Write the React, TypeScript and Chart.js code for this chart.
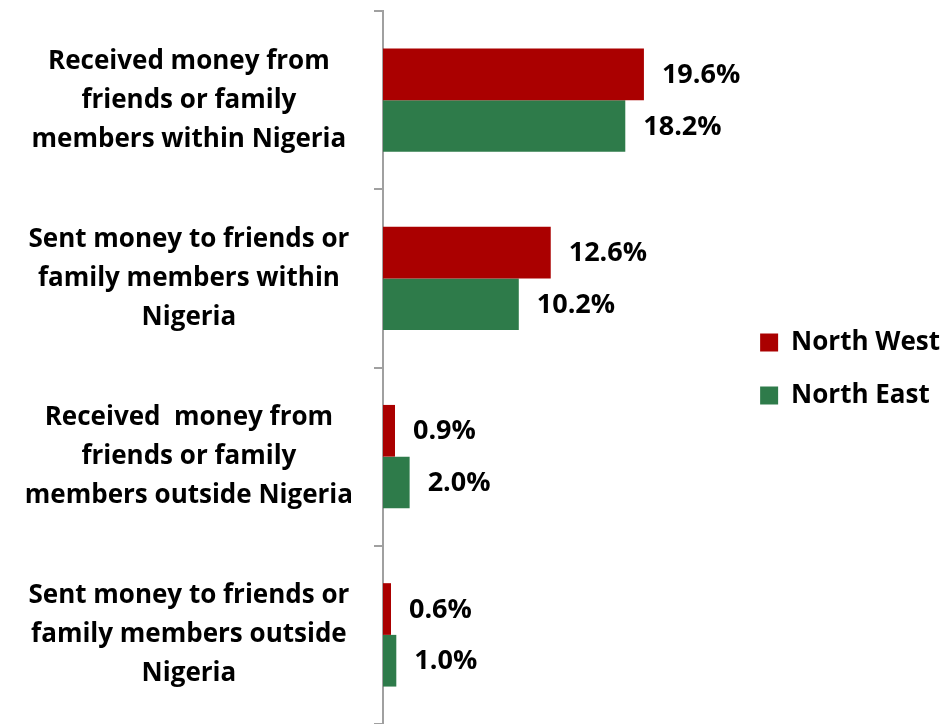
import React, { useEffect, useRef } from "react";
import { Chart, registerables } from "chart.js";

Chart.register(...registerables);

const categories: string[][] = [
  ["Received money from", "friends or family", "members within Nigeria"],
  ["Sent money to friends or", "family members within", "Nigeria"],
  ["Received  money from", "friends or family", "members outside Nigeria"],
  ["Sent money to friends or", "family members outside", "Nigeria"],
];
const northWest: number[] = [19.6, 12.6, 0.9, 0.6];
const northEast: number[] = [18.2, 10.2, 2.0, 1.0];
const seriesNames: string[] = ["North West", "North East"];

const FONT = "'Open Sans', 'Liberation Sans', sans-serif";

const dataLabels = {
  id: "dataLabels",
  afterDatasetsDraw(chart: any) {
    const ctx = chart.ctx;
    ctx.save();
    ctx.font = `bold 27px ${FONT}`;
    ctx.fillStyle = "#000000";
    ctx.textAlign = "left";
    ctx.textBaseline = "middle";
    chart.data.datasets.forEach((ds: any, i: number) => {
      const meta = chart.getDatasetMeta(i);
      meta.data.forEach((bar: any, j: number) => {
        const v = ds.data[j] as number;
        ctx.fillText(v.toFixed(1) + "%", bar.x + 18, bar.y + 1);
      });
    });
    ctx.restore();
  },
};

export default function App() {
  const ref = useRef<HTMLCanvasElement | null>(null);
  useEffect(() => {
    if (!ref.current) return;
    const chart = new Chart(ref.current, {
      type: "bar",
      data: {
        labels: categories,
        datasets: [
          {
            label: seriesNames[0],
            data: northWest,
            backgroundColor: "#AA0000",
            barPercentage: 1,
            categoryPercentage: 0.58,
          },
          {
            label: seriesNames[1],
            data: northEast,
            backgroundColor: "#2E7B4A",
            barPercentage: 1,
            categoryPercentage: 0.58,
          },
        ],
      },
      options: {
        indexAxis: "y",
        animation: false,
        responsive: true,
        maintainAspectRatio: false,
        layout: { padding: { top: 11, bottom: -3, left: 0, right: -5 } },
        scales: {
          x: {
            display: false,
            min: 0,
            max: 26.3,
          },
          y: {
            afterFit: (s: any) => {
              s.width = 383;
              s.paddingTop = 0;
              s.paddingBottom = 0;
            },
            border: { display: true, color: "#A0A0A0", width: 2 },
            grid: {
              display: true,
              drawOnChartArea: false,
              drawTicks: true,
              tickLength: 9,
              color: "#A0A0A0",
              lineWidth: 2,
              offset: true,
            },
            ticks: {
              crossAlign: "center",
              padding: 21,
              color: "#000000",
              font: { family: FONT, size: 26, weight: "bold", lineHeight: 1.5 },
            },
          },
        },
        plugins: {
          legend: {
            position: "right",
            labels: {
              boxWidth: 18,
              boxHeight: 18,
              padding: 27,
              color: "#000000",
              font: { family: FONT, size: 26, weight: "bold" },
            },
          },
          tooltip: { enabled: false },
        },
      },
      plugins: [dataLabels],
    });
    return () => chart.destroy();
  }, []);
  return (
    <div style={{ position: "absolute", left: 0, top: 0, width: 945, height: 724 }}>
      <canvas ref={ref} />
    </div>
  );
}
